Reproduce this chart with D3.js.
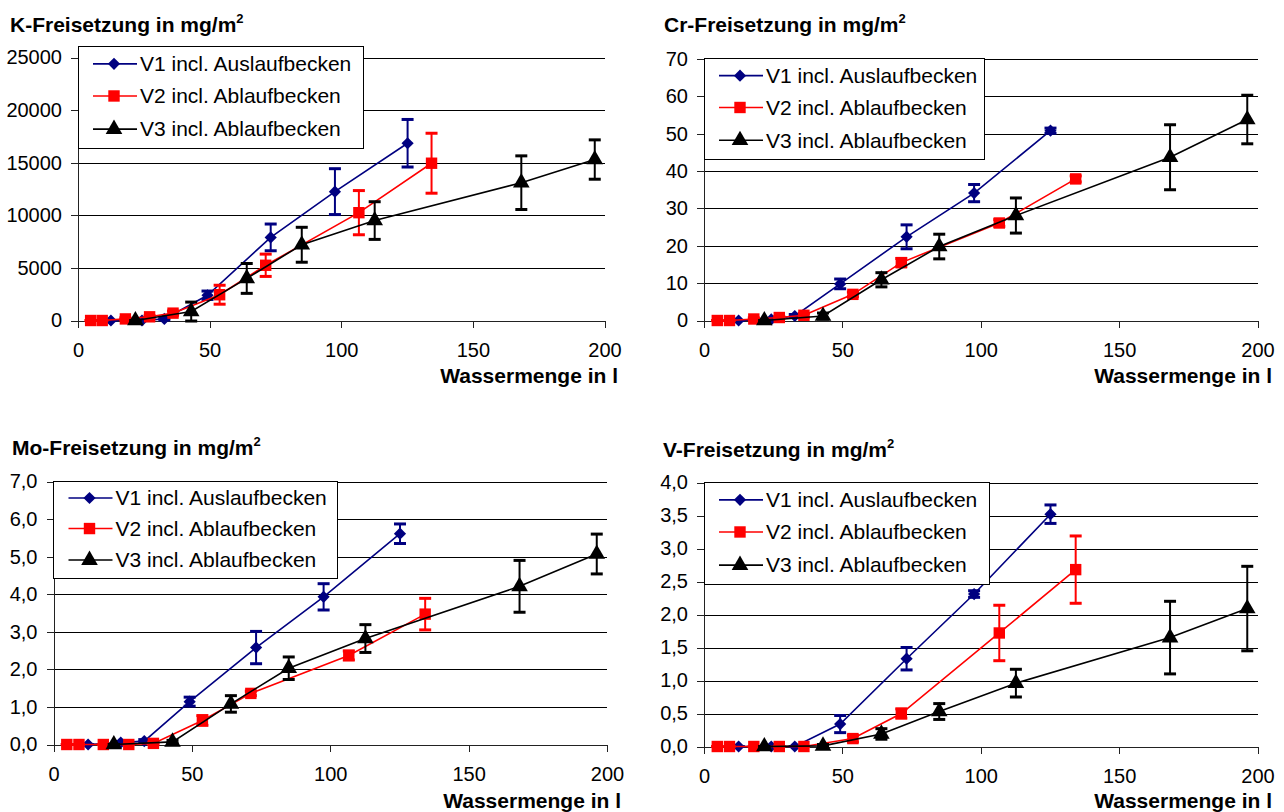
<!DOCTYPE html>
<html>
<head>
<meta charset="utf-8">
<script src="https://cdn.jsdelivr.net/npm/d3@7"></script>
<style>
  body { margin: 0; background: #fff; }
  svg { display: block; font-family: "Liberation Sans", Arial, sans-serif; }
</style>
</head>
<body>
<svg id="chart" width="1284" height="812"></svg>
<script>
// series names + x values (Wassermenge in l)
const seriesNames = ["V1 incl. Auslaufbecken", "V2 incl. Ablaufbecken", "V3 incl. Ablaufbecken"];
const wasserV1 = [12.5, 24.3, 32.8, 49.2, 73.2, 97.6, 125.2];
const wasserV2 = [4.8, 9.2, 18, 27.2, 36.1, 53.8, 71.3, 106.7, 134.3];
const wasserV3 = [21.8, 43, 64.1, 85, 112.7, 168.4, 196.3];

const xTicks = [0, 50, 100, 150, 200];

// K
const kV1 = [0, 0, 150, 2400, 7900, 12250, 16850];
const kV1Err = [0, 0, 100, 400, 1270, 2180, 2260];
const kV2 = [0, 0, 150, 350, 700, 2450, 5250, 10250, 14950];
const kV2Err = [0, 0, 100, 100, 200, 900, 1060, 2100, 2850];
const kV3 = [0, 850, 4000, 7200, 9500, 13100, 15300];
const kV3Err = [0, 900, 1420, 1660, 1790, 2550, 1870];
const kTicks = [0, 5000, 10000, 15000, 20000, 25000];

// Cr
const crV1 = [0, 0.3, 1.2, 9.8, 22.4, 34.1, 50.8];
const crV1Err = [0, 0.2, 0.4, 1.3, 3.2, 2.3, 0.7];
const crV2 = [0, 0, 0.4, 0.8, 1.4, 7.0, 15.5, 26.1, 37.9];
const crV2Err = [0, 0, 0.3, 0.3, 0.5, 0.6, 1.1, 0.9, 0.8];
const crV3 = [0, 1.2, 10.9, 19.8, 28.1, 43.7, 53.8];
const crV3Err = [0, 0.8, 1.9, 3.3, 4.7, 8.7, 6.5];
const crTicks = [0, 10, 20, 30, 40, 50, 60, 70];

// Mo
const moV1 = [0, 0.05, 0.09, 1.14, 2.58, 3.93, 5.61];
const moV1Err = [0, 0.03, 0.04, 0.12, 0.43, 0.35, 0.26];
const moV2 = [0, 0, 0, 0, 0.03, 0.64, 1.36, 2.37, 3.47];
const moV2Err = [0, 0, 0, 0, 0.03, 0.13, 0.06, 0.12, 0.42];
const moV3 = [0, 0.07, 1.08, 2.03, 2.82, 4.21, 5.07];
const moV3Err = [0, 0.04, 0.22, 0.3, 0.37, 0.69, 0.53];
const moTicks = [0, 1, 2, 3, 4, 5, 6, 7];

// V
const vV1 = [0, 0, 0, 0.34, 1.33, 2.31, 3.52];
const vV1Err = [0, 0, 0, 0.13, 0.17, 0.05, 0.14];
const vV2 = [0, 0, 0, 0, 0, 0.12, 0.5, 1.72, 2.68];
const vV2Err = [0, 0, 0, 0, 0, 0.05, 0.07, 0.42, 0.51];
const vV3 = [0, 0.01, 0.19, 0.53, 0.96, 1.65, 2.09];
const vV3Err = [0, 0.02, 0.08, 0.12, 0.21, 0.55, 0.64];
const vTicks = [0, 0.5, 1, 1.5, 2, 2.5, 3, 3.5, 4];

const colors = ["#000080", "#ff0000", "#000000"];
const symbols = [d3.symbolDiamond2, d3.symbolSquare, d3.symbolTriangle];
const markerSize = [95, 130, 120];
const wasser = [wasserV1, wasserV2, wasserV3];

const de = d3.formatLocale({ decimal: ",", thousands: ".", grouping: [3], currency: ["", " €"] });
const fmtInt = d3.format("d");
const fmtDec = de.format(".1f");

// layout per panel
const panels = [
  { title: "K-Freisetzung in mg/m", tx: 10, ty: 32, x0: 78, x1: 604.5, yTop: 57.5, yBot: 320.5,
    ticks: kTicks, fmt: fmtInt, vals: [kV1, kV2, kV3], errs: [kV1Err, kV2Err, kV3Err],
    leg: { x: 78, y: 46.5, w: 285, h: 102 }, labX: 618, labY: 383 },
  { title: "Cr-Freisetzung in mg/m", tx: 664, ty: 32, x0: 704, x1: 1257.5, yTop: 59, yBot: 320.5,
    ticks: crTicks, fmt: fmtInt, vals: [crV1, crV2, crV3], errs: [crV1Err, crV2Err, crV3Err],
    leg: { x: 704, y: 58.5, w: 280, h: 101 }, labX: 1272, labY: 383 },
  { title: "Mo-Freisetzung in mg/m", tx: 12, ty: 455, x0: 53.5, x1: 607, yTop: 481.5, yBot: 744.5,
    ticks: moTicks, fmt: fmtDec, vals: [moV1, moV2, moV3], errs: [moV1Err, moV2Err, moV3Err],
    leg: { x: 53.5, y: 481.5, w: 284, h: 97 }, labX: 621, labY: 808 },
  { title: "V-Freisetzung in mg/m", tx: 663, ty: 456.5, x0: 704, x1: 1257.5, yTop: 482.5, yBot: 746.5,
    ticks: vTicks, fmt: fmtDec, vals: [vV1, vV2, vV3], errs: [vV1Err, vV2Err, vV3Err],
    leg: { x: 704, y: 482.5, w: 285, h: 102 }, labX: 1272, labY: 808 }
];

const svg = d3.select("#chart");

function symbolPath(i, size) {
  return d3.symbol().type(symbols[i]).size(size)();
}

panels.forEach(p => {
  const g = svg.append("g");
  const x = d3.scaleLinear().domain([0, 200]).range([p.x0, p.x1]);
  const y = d3.scaleLinear().domain([0, d3.max(p.ticks)]).range([p.yBot, p.yTop]);

  // title
  const t = g.append("text")
    .attr("x", p.tx).attr("y", p.ty)
    .attr("font-size", 21).attr("font-weight", "bold")
    .text(p.title);
  t.append("tspan").attr("dy", -9).attr("font-size", 13).text("2");

  // gridlines
  g.append("g")
    .attr("transform", "translate(" + p.x0 + ",0)")
    .call(d3.axisLeft(y).tickValues(p.ticks).tickSize(-(p.x1 - p.x0)).tickFormat(""))
    .call(a => a.select(".domain").remove())
    .call(a => a.selectAll("line").attr("stroke", "#000").attr("shape-rendering", "crispEdges"));

  // y axis
  g.append("g")
    .attr("transform", "translate(" + p.x0 + ",0)")
    .call(d3.axisLeft(y).tickValues(p.ticks).tickSize(7).tickSizeOuter(0).tickPadding(9).tickFormat(p.fmt))
    .call(a => a.selectAll("text").attr("font-size", 20).attr("font-family", "Liberation Sans, Arial, sans-serif").attr("fill", "#000"))
    .call(a => a.selectAll("line,path").attr("stroke", "#222").attr("shape-rendering", "crispEdges"));

  // x axis
  g.append("g")
    .attr("transform", "translate(0," + p.yBot + ")")
    .call(d3.axisBottom(x).tickValues(xTicks).tickSize(7).tickSizeOuter(0).tickPadding(15).tickFormat(fmtInt))
    .call(a => a.selectAll("text").attr("font-size", 20).attr("font-family", "Liberation Sans, Arial, sans-serif").attr("fill", "#000"))
    .call(a => a.selectAll("line,path").attr("stroke", "#222").attr("shape-rendering", "crispEdges"));

  // x axis title
  g.append("text")
    .attr("x", p.labX).attr("y", p.labY)
    .attr("text-anchor", "end")
    .attr("font-size", 21).attr("font-weight", "bold")
    .text("Wassermenge in l");

  // series
  p.vals.forEach((vals, i) => {
    const pts = vals.map((v, j) => ({ x: wasser[i][j], y: v, e: p.errs[i][j] }));
    const sg = g.append("g");

    sg.append("path")
      .datum(pts)
      .attr("fill", "none")
      .attr("stroke", colors[i])
      .attr("stroke-width", 1.6)
      .attr("d", d3.line().x(d => x(d.x)).y(d => y(d.y)));

    // error bars
    const eb = sg.selectAll(".eb").data(pts).enter().append("g");
    eb.append("line")
      .attr("x1", d => x(d.x)).attr("x2", d => x(d.x))
      .attr("y1", d => y(d.y + d.e)).attr("y2", d => y(d.y - d.e))
      .attr("stroke", colors[i]).attr("stroke-width", 2);
    eb.append("line")
      .attr("x1", d => x(d.x) - 6).attr("x2", d => x(d.x) + 6)
      .attr("y1", d => y(d.y + d.e)).attr("y2", d => y(d.y + d.e))
      .attr("stroke", colors[i]).attr("stroke-width", 3);
    eb.append("line")
      .attr("x1", d => x(d.x) - 6).attr("x2", d => x(d.x) + 6)
      .attr("y1", d => y(d.y - d.e)).attr("y2", d => y(d.y - d.e))
      .attr("stroke", colors[i]).attr("stroke-width", 3);

    sg.selectAll(".mk").data(pts).enter().append("path")
      .attr("transform", d => "translate(" + x(d.x) + "," + y(d.y) + ")")
      .attr("d", symbolPath(i, markerSize[i]))
      .attr("fill", colors[i]);
  });

  // legend
  const L = p.leg;
  const lg = g.append("g");
  lg.append("rect")
    .attr("x", L.x).attr("y", L.y).attr("width", L.w).attr("height", L.h)
    .attr("fill", "#fff").attr("stroke", "#000").attr("shape-rendering", "crispEdges");
  const rows = [0.17, 0.485, 0.81];
  seriesNames.forEach((name, i) => {
    const ry = L.y + L.h * rows[i];
    lg.append("line")
      .attr("x1", L.x + 15).attr("x2", L.x + 59)
      .attr("y1", ry).attr("y2", ry)
      .attr("stroke", colors[i]).attr("stroke-width", 1.6);
    lg.append("path")
      .attr("transform", "translate(" + (L.x + 36) + "," + ry + ")")
      .attr("d", symbolPath(i, markerSize[i]))
      .attr("fill", colors[i]);
    lg.append("text")
      .attr("x", L.x + 62).attr("y", ry)
      .attr("dy", "0.35em")
      .attr("font-size", 21)
      .text(name);
  });
});
</script>
</body>
</html>
